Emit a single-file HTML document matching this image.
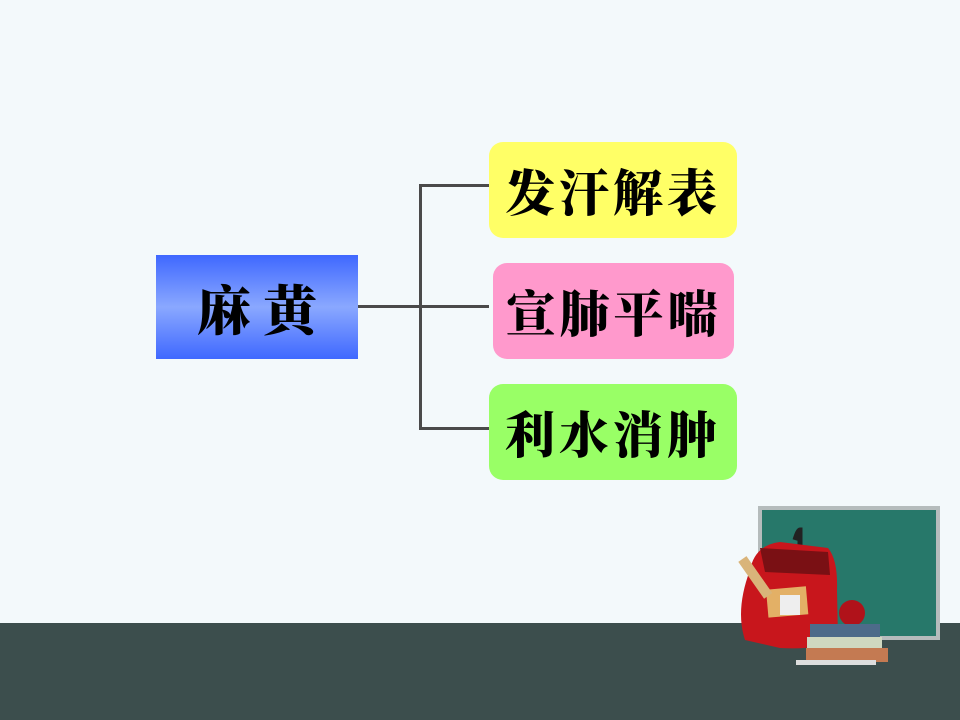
<!DOCTYPE html>
<html><head><meta charset="utf-8"><style>
html,body{margin:0;padding:0}
body{width:960px;height:720px;position:relative;background:#f3f9fb;overflow:hidden;font-family:"Liberation Sans","Noto Serif CJK SC","Noto Sans CJK SC",serif}
.band{position:absolute;left:0;top:623px;width:960px;height:97px;background:#3c4e4d}
.box{position:absolute;display:flex;align-items:center;justify-content:center;font-weight:900;color:#000;font-size:50px;letter-spacing:4px}
.r{border-radius:14px}
.l{position:absolute;background:#4a4a4a}
</style></head><body>
<div class="band"></div>
<div class="box" style="left:156px;top:255px;width:202px;height:104px;background:linear-gradient(#3f68ff,#8aa8ff 50%,#3f68ff);font-size:54px;letter-spacing:12px;padding-left:12px;box-sizing:border-box">麻黄</div>
<div class="l" style="left:358px;top:305px;width:131px;height:3px"></div>
<div class="l" style="left:419px;top:184px;width:3px;height:246px"></div>
<div class="l" style="left:419px;top:184px;width:70px;height:3px"></div>
<div class="l" style="left:419px;top:427px;width:70px;height:3px"></div>
<div class="box r" style="left:489px;top:142px;width:248px;height:96px;background:#ffff66">发汗解表</div>
<div class="box r" style="left:493px;top:263px;width:241px;height:96px;background:#ff99cc">宣肺平喘</div>
<div class="box r" style="left:489px;top:384px;width:248px;height:96px;background:#99ff66">利水消肿</div>
<svg style="position:absolute;left:720px;top:500px" width="240" height="220">
<rect x="38" y="6" width="182" height="134" fill="#b5bcbc"/>
<rect x="42" y="10" width="174" height="126" fill="#27786a"/>
<path d="M75 40 Q78 30 80 30 L80 45" stroke="#222" stroke-width="5" fill="none"/>
<path d="M30 70 Q35 45 60 42 L108 48 Q118 60 117 90 L118 140 Q100 150 60 148 L25 140 Q15 110 30 70Z" fill="#c8161c"/>
<path d="M40 48 L108 52 L110 75 L45 72Z" fill="#7a1014"/>
<rect x="47" y="88" width="40" height="28" fill="#e3b066" transform="rotate(-5 67 100)"/>
<rect x="60" y="95" width="20" height="20" fill="#eee"/>
<rect x="30" y="55" width="10" height="45" fill="#d9b47a" transform="rotate(-35 35 77)"/>
<circle cx="132" cy="113" r="13" fill="#b0121a"/>
<rect x="90" y="124" width="70" height="14" fill="#4d6b8a"/>
<rect x="87" y="137" width="75" height="12" fill="#cfd8c0"/>
<rect x="86" y="148" width="82" height="14" fill="#c47a52"/>
<rect x="76" y="160" width="80" height="5" fill="#ddd"/>
</svg>
</body></html>
